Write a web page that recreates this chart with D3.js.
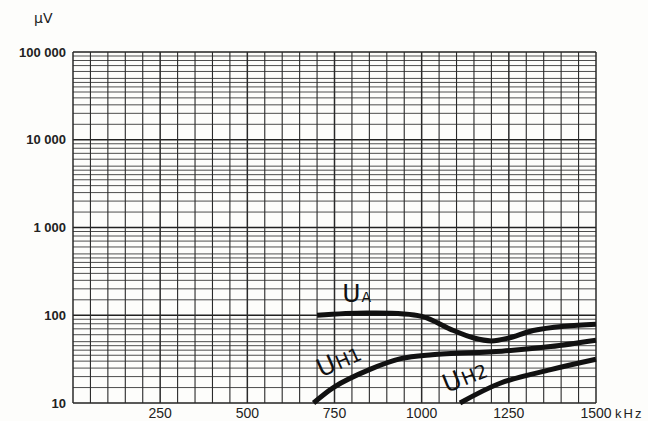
<!DOCTYPE html>
<html>
<head>
<meta charset="utf-8">
<script src="https://cdn.jsdelivr.net/npm/d3@7"></script>
<style>
  body { margin: 0; background: #fdfdfb; }
  svg { display: block; }
</style>
</head>
<body>
<div id="chart"></div>
<script>
// frequency in kHz, level in microvolts
var uaFreq  = [700, 850, 1000, 1080, 1150, 1200, 1250, 1320, 1410, 1500];
var uaVal   = [100, 106,   97,   70,   55,   51,   55,   67,   75,   79];
var uh1Freq = [690, 750, 850, 940, 1030, 1230, 1370, 1500];
var uh1Val  = [ 10, 15.3, 24,  32, 35.5,   39,   44,   52];
var uh2Freq = [1110, 1225, 1370, 1500];
var uh2Val  = [  10, 16.8,   24, 31.5];

var xTicks = [250, 500, 750, 1000, 1250, 1500];
var yTicks = [10, 100, 1000, 10000, 100000];
var yTickLabels = ["10", "100", "1 000", "10 000", "100 000"];
var minorSteps = [1.5, 2, 2.5, 3, 3.5, 4, 4.5, 5, 6, 7, 8, 9];

var width = 648, height = 421;
var margin = {left: 73, top: 52, right: 52, bottom: 18};
var plotW = width - margin.left - margin.right;
var plotH = height - margin.top - margin.bottom;

var svg = d3.select("#chart").append("svg")
    .attr("width", width)
    .attr("height", height);

var x = d3.scaleLinear().domain([0, 1500]).range([margin.left, margin.left + plotW]);
var y = d3.scaleLog().domain([10, 100000]).range([margin.top + plotH, margin.top]);

var grid = svg.append("g").attr("class", "grid");

// horizontal minor lines of the log paper
var hLines = [];
for (var d = 10; d < 100000; d *= 10) {
    for (var i = 0; i < minorSteps.length; i++) hLines.push(d * minorSteps[i]);
}
grid.selectAll("line.h")
    .data(hLines)
    .enter()
    .append("line")
    .attr("class", "h")
    .attr("x1", x(0)).attr("x2", x(1500))
    .attr("y1", function(d){ return y(d); })
    .attr("y2", function(d){ return y(d); })
    .attr("stroke", "#3a3a3a")
    .attr("stroke-width", 0.9);

// decade lines
grid.selectAll("line.dec")
    .data(yTicks)
    .enter()
    .append("line")
    .attr("class", "dec")
    .attr("x1", x(0)).attr("x2", x(1500))
    .attr("y1", function(d){ return y(d); })
    .attr("y2", function(d){ return y(d); })
    .attr("stroke", "#222")
    .attr("stroke-width", 1.6);

// vertical lines every 50 kHz
grid.selectAll("line.v")
    .data(d3.range(0, 1501, 50))
    .enter()
    .append("line")
    .attr("class", "v")
    .attr("x1", function(d){ return x(d); })
    .attr("x2", function(d){ return x(d); })
    .attr("y1", y(10)).attr("y2", y(100000))
    .attr("stroke", "#2a2a2a")
    .attr("stroke-width", function(d){ return (d % 250 == 0) ? 1.5 : 1.1; });

// y labels
svg.append("g")
    .selectAll("text")
    .data(yTicks)
    .enter()
    .append("text")
    .attr("x", margin.left - 7)
    .attr("y", function(d){ return y(d); })
    .attr("dy", "0.36em")
    .attr("text-anchor", "end")
    .attr("font-family", "Liberation Sans, Arial, sans-serif")
    .attr("font-weight", "bold")
    .attr("font-size", 13)
    .attr("fill", "#222")
    .text(function(d, i){ return yTickLabels[i]; });

// x labels
svg.append("g")
    .selectAll("text")
    .data(xTicks)
    .enter()
    .append("text")
    .attr("x", function(d){ return x(d); })
    .attr("y", y(10) + 15)
    .attr("text-anchor", "middle")
    .attr("font-family", "Liberation Sans, Arial, sans-serif")
    .attr("font-size", 14)
    .attr("fill", "#222")
    .text(function(d){ return d; });

svg.append("text")
    .attr("x", x(1500) + 19)
    .attr("y", y(10) + 15)
    .attr("font-family", "Liberation Sans, Arial, sans-serif")
    .attr("font-size", 13)
    .attr("letter-spacing", 2)
    .attr("fill", "#222")
    .text("kHz");

svg.append("text")
    .attr("x", 34)
    .attr("y", 23)
    .attr("font-family", "DejaVu Sans, sans-serif")
    .attr("font-size", 14)
    .attr("fill", "#222")
    .text("\u00b5V");

// curves
var line = d3.line()
    .x(function(d){ return x(d[0]); })
    .y(function(d){ return y(d[1]); })
    .curve(d3.curveCatmullRom.alpha(0.5));

var series = [
    d3.zip(uaFreq, uaVal),
    d3.zip(uh1Freq, uh1Val),
    d3.zip(uh2Freq, uh2Val)
];
svg.append("g")
    .selectAll("path")
    .data(series)
    .enter()
    .append("path")
    .attr("d", line)
    .attr("fill", "none")
    .attr("stroke", "#111")
    .attr("stroke-width", 5)
    .attr("stroke-linecap", "butt");

// curve names
var names = [
    {f: 772, v: 142, main: "U", sub: "A", subSize: 14, rot: 0},
    {f: 712, v: 19.5, main: "U", sub: "H1", subSize: 19, rot: -24},
    {f: 1072, v: 13, main: "U", sub: "H2", subSize: 19, rot: -22}
];
var nameG = svg.append("g")
    .selectAll("text")
    .data(names)
    .enter()
    .append("text")
    .attr("transform", function(d){
        return "translate(" + x(d.f) + "," + y(d.v) + ") rotate(" + d.rot + ")";
    })
    .attr("font-family", "DejaVu Sans, sans-serif")
    .attr("fill", "#111");
nameG.append("tspan")
    .attr("font-size", 25)
    .text(function(d){ return d.main; });
nameG.append("tspan")
    .attr("font-size", function(d){ return d.subSize; })
    .attr("dx", 1)
    .text(function(d){ return d.sub; });
</script>
</body>
</html>
